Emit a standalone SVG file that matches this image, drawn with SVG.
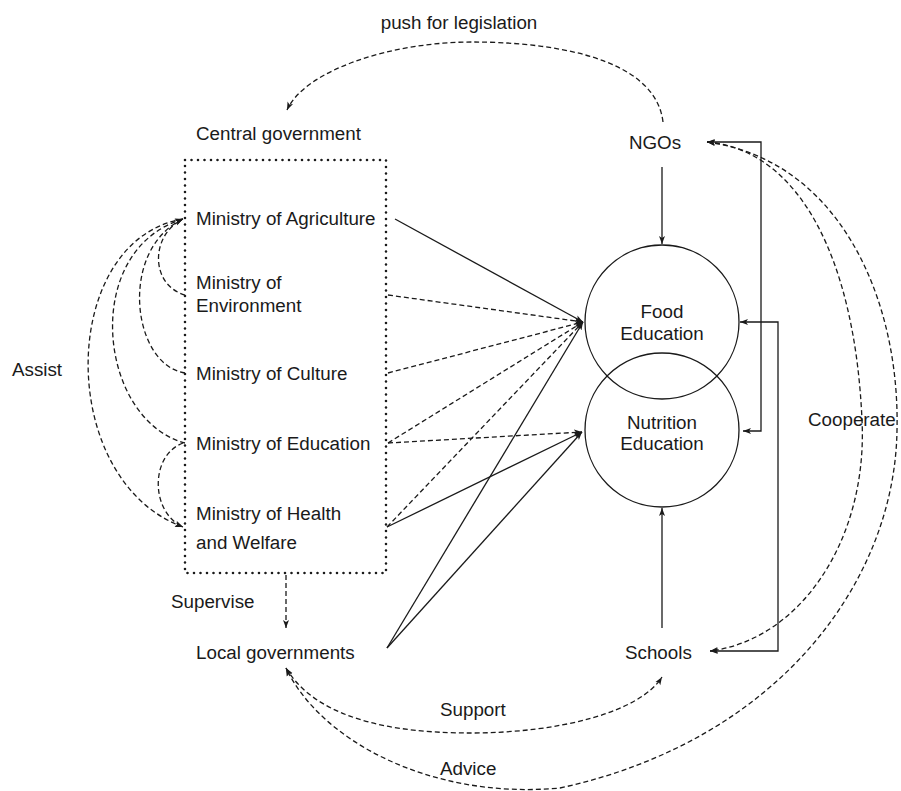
<svg xmlns="http://www.w3.org/2000/svg" width="901" height="791" viewBox="0 0 901 791">
<style>
text{font-family:"Liberation Sans",Arial,sans-serif;font-size:18.8px;fill:#1a1a1a}
.c{text-anchor:middle}
.s{fill:none;stroke:#1a1a1a;stroke-width:1.3}
.d{fill:none;stroke:#1a1a1a;stroke-width:1.3;stroke-dasharray:5,3}
.box{fill:none;stroke:#1a1a1a;stroke-width:2.6;stroke-dasharray:0,6.5;stroke-linecap:round}
</style>
<defs>
<marker id="a" viewBox="0 0 8 8" markerWidth="8" markerHeight="8" refX="8" refY="4" orient="auto-start-reverse" markerUnits="userSpaceOnUse">
<path d="M0,1 L8,4 L0,7 L2,4 z" fill="#1a1a1a"/>
</marker>
</defs>
<rect width="901" height="791" fill="#fff"/>

<g id="central-government">
<text x="196" y="140">Central government</text>
<rect class="box" x="185" y="160" width="201" height="413"/>
</g>
<g id="ministry-agriculture"><text x="196" y="225">Ministry of Agriculture</text></g>
<g id="ministry-environment"><text x="196" y="289">Ministry of</text><text x="196" y="312">Environment</text></g>
<g id="ministry-culture"><text x="196" y="380">Ministry of Culture</text></g>
<g id="ministry-education"><text x="196" y="450">Ministry of Education</text></g>
<g id="ministry-health"><text x="196" y="520">Ministry of Health</text><text x="196" y="549">and Welfare</text></g>
<g id="ngos"><text class="c" x="655" y="149">NGOs</text></g>
<g id="food-education"><circle class="s" cx="662" cy="322" r="77"/><text class="c" x="662" y="318">Food</text><text class="c" x="662" y="340">Education</text></g>
<g id="nutrition-education"><circle class="s" cx="662" cy="430" r="77"/><text class="c" x="662" y="429">Nutrition</text><text class="c" x="662" y="450">Education</text></g>
<g id="local-governments"><text x="196" y="659">Local governments</text></g>
<g id="schools"><text x="625" y="659">Schools</text></g>

<g id="labels">
<text class="c" x="459" y="29">push for legislation</text>
<text x="12" y="376">Assist</text>
<text x="171" y="608">Supervise</text>
<text x="808" y="426">Cooperate</text>
<text x="440" y="716">Support</text>
<text x="440" y="775">Advice</text>
</g>

<g id="connectors">
<path class="d" d="M663,122 C655,55 545,42 472,42 C392,42 305,70 287,110" marker-end="url(#a)"/>
<path class="d" d="M185,295 C150,285 150,235 183,219" marker-end="url(#a)"/>
<path class="d" d="M185,373 C132,365 118,250 183,219" marker-end="url(#a)"/>
<path class="d" d="M185,443 C98,420 80,250 183,219" marker-end="url(#a)"/>
<path class="d" d="M183,219 C58,240 55,480 183,527" marker-end="url(#a)"/>
<path class="d" d="M183,443 C150,455 150,512 183,527" marker-end="url(#a)"/>
<path class="d" d="M286,575 L286,628" marker-end="url(#a)"/>
<path class="s" d="M395,219 L583,322" marker-end="url(#a)"/>
<path class="d" d="M388,295 L583,322" marker-end="url(#a)"/>
<path class="d" d="M388,373 L583,322" marker-end="url(#a)"/>
<path class="d" d="M388,443 L583,322" marker-end="url(#a)"/>
<path class="d" d="M388,443 L582,432" marker-end="url(#a)"/>
<path class="d" d="M387,527 L583,322" marker-end="url(#a)"/>
<path class="s" d="M387,527 L582,432" marker-end="url(#a)"/>
<path class="s" d="M387,648 L583,322" marker-end="url(#a)"/>
<path class="s" d="M387,648 L582,432" marker-end="url(#a)"/>
<path class="s" d="M662,167 L662,244" marker-end="url(#a)"/>
<path class="s" d="M662,628 L662,508" marker-end="url(#a)"/>
<path class="s" d="M707,142 H761 V431 H743" marker-start="url(#a)" marker-end="url(#a)"/>
<path class="s" d="M710,651 H778 V322 H740" marker-start="url(#a)" marker-end="url(#a)"/>
<path class="d" d="M707,142 C800,150 855,260 862,420 C868,540 800,640 710,651" marker-start="url(#a)" marker-end="url(#a)"/>
<path class="d" d="M707,142 C840,160 900,300 897,430 C895,580 780,740 560,788 C430,800 320,740 286,668" marker-start="url(#a)" marker-end="url(#a)"/>
<path class="d" d="M286,668 C320,725 410,733 470,733 C560,733 640,712 662,677" marker-start="url(#a)" marker-end="url(#a)"/>
</g>
</svg>
